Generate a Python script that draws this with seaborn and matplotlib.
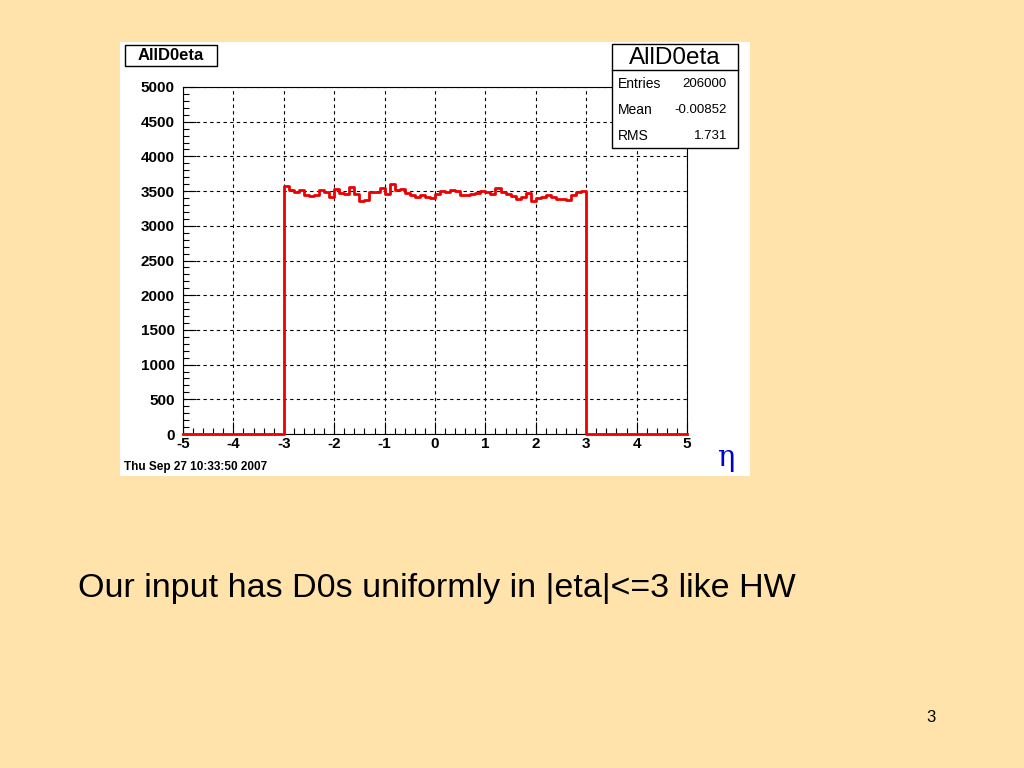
import numpy as np
import pandas as pd
import matplotlib
matplotlib.use("Agg")
import matplotlib.pyplot as plt
from matplotlib.patches import Rectangle
from matplotlib.lines import Line2D
from matplotlib.ticker import MultipleLocator
import seaborn as sns

# ---------------- data ----------------
hist_name = "AllD0eta"
eta_min, eta_max, n_bins = -5.0, 5.0, 100
filled_min, filled_max = -3.0, 3.0
counts_filled = [
    3570, 3520, 3480, 3520, 3440, 3430, 3440, 3510, 3480, 3420,
    3530, 3470, 3460, 3560, 3460, 3360, 3370, 3480, 3490, 3540,
    3460, 3600, 3510, 3530, 3470, 3450, 3420, 3440, 3420, 3400,
    3460, 3500, 3480, 3520, 3500, 3440, 3450, 3460, 3470, 3500,
    3480, 3460, 3550, 3480, 3460, 3430, 3390, 3420, 3470, 3360,
    3400, 3420, 3440, 3420, 3390, 3380, 3370, 3450, 3480, 3500,
]
stats_labels = ["Entries", "Mean", "RMS"]
stats_values = ["206000", "-0.00852", "1.731"]
x_ticks = [-5, -4, -3, -2, -1, 0, 1, 2, 3, 4, 5]
y_ticks = [0, 500, 1000, 1500, 2000, 2500, 3000, 3500, 4000, 4500, 5000]
date_text = "Thu Sep 27 10:33:50 2007"
x_title = "η"
caption = "Our input has D0s uniformly in |eta|<=3 like HW"
page_number = "3"

# build full histogram
edges = np.linspace(eta_min, eta_max, n_bins + 1)
centers = 0.5 * (edges[:-1] + edges[1:])
weights = np.zeros(n_bins)
mask = (centers > filled_min) & (centers < filled_max)
weights[mask] = counts_filled
df = pd.DataFrame({"eta": centers, "count": weights})

# ---------------- figure ----------------
W, H = 1024, 768
bg = "#FFE3AA"
fig = plt.figure(figsize=(W / 100, H / 100), dpi=100, facecolor=bg)

def fx(px):
    return px / W

def fy(py):
    return 1 - py / H

# white canvas panel
fig.patches.append(Rectangle((fx(120), fy(476)), fx(750) - fx(120), fy(42) - fy(476),
                             transform=fig.transFigure, facecolor="white", edgecolor="none", zorder=-10))

ax = fig.add_axes([fx(183), fy(434), fx(687) - fx(183), fy(87) - fy(434)])
ax.set_facecolor("white")

sns.histplot(data=df, x="eta", weights="count", bins=n_bins, binrange=(eta_min, eta_max),
             element="step", fill=False, color="#EE0000", linewidth=2.0, ax=ax, zorder=3,
             clip_on=False)

ax.set_xlim(eta_min, eta_max)
ax.set_ylim(0, 5000)
ax.set_xticks(x_ticks)
ax.set_yticks(y_ticks)
ax.xaxis.set_minor_locator(MultipleLocator(0.2))
ax.yaxis.set_minor_locator(MultipleLocator(100))
ax.set_xticklabels([str(t) for t in x_ticks], fontsize=11, fontweight="bold", family="Liberation Sans")
ax.set_yticklabels([str(t) for t in y_ticks], fontsize=11, fontweight="bold", family="Liberation Sans")
ax.tick_params(axis="x", which="major", direction="in", length=9, width=0.8, color="black",
               top=False, pad=2.5)
ax.tick_params(axis="y", which="major", direction="in", length=9, width=0.8, color="black",
               right=False, pad=6)
ax.tick_params(axis="both", which="minor", direction="in", length=4.5, width=0.8, color="black",
               top=False, right=False)
ax.grid(True, which="major", linestyle=(0, (3, 3)), color="black", linewidth=0.8, zorder=1)
ax.set_axisbelow(True)
ax.set_xlabel("")
ax.set_ylabel("")
for s in ax.spines.values():
    s.set_color("black")
    s.set_linewidth(0.8)

# title box
fig.patches.append(Rectangle((fx(125), fy(66)), fx(217) - fx(125), fy(45) - fy(66),
                             transform=fig.transFigure, facecolor="white", edgecolor="black",
                             linewidth=1.0, zorder=5))
fig.text(fx(171), fy(56), hist_name, ha="center", va="center", fontsize=12,
         fontweight="bold", family="Liberation Sans", zorder=6)

# stats box
fig.patches.append(Rectangle((fx(612), fy(148)), fx(738) - fx(612), fy(44) - fy(148),
                             transform=fig.transFigure, facecolor="white", edgecolor="black",
                             linewidth=1.0, zorder=5))
fig.lines.append(Line2D([fx(612), fx(738)], [fy(70), fy(70)], transform=fig.transFigure,
                        color="black", linewidth=1.0, zorder=6))
fig.text(fx(675), fy(58), hist_name, ha="center", va="center", fontsize=17.5,
         family="Liberation Sans", zorder=6)
for i, (lab, val) in enumerate(zip(stats_labels, stats_values)):
    yy = fy(84 + 26 * i)
    fig.text(fx(618), yy, lab, ha="left", va="center", fontsize=10, family="Liberation Sans", zorder=6)
    fig.text(fx(727), yy, val, ha="right", va="center", fontsize=9.5, family="Liberation Sans", zorder=6)

# date stamp
fig.text(fx(124), fy(467), date_text, ha="left", va="center", fontsize=8.5,
         fontweight="bold", family="Liberation Sans")

# axis title eta
fig.text(fx(727), fy(458), x_title, ha="center", va="center", fontsize=21,
         color="#0000CC", family="DejaVu Serif")

# caption and page number
fig.text(fx(78), fy(589), caption, ha="left", va="center", fontsize=24.5, family="Liberation Sans")
fig.text(fx(931), fy(718), page_number, ha="center", va="center", fontsize=12, family="Liberation Sans")

fig.savefig("out.png", dpi=100, facecolor=bg)
